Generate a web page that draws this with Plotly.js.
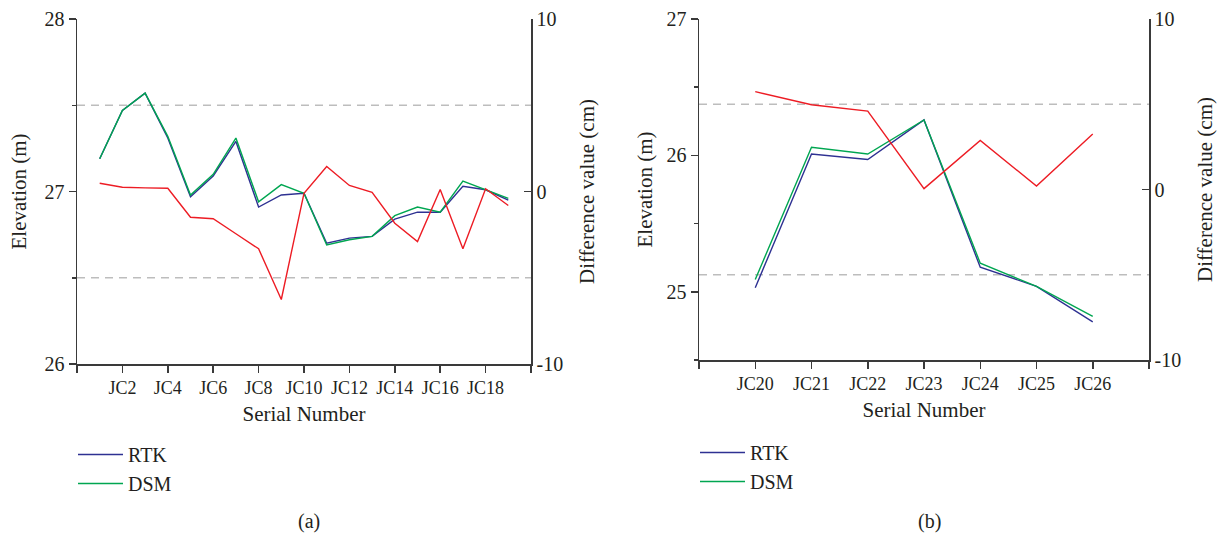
<!DOCTYPE html>
<html>
<head>
<meta charset="utf-8">
<script src="https://cdn.plot.ly/plotly-3.0.1.min.js"></script>
<style>
  html, body { margin: 0; padding: 0; background: #fff; }
  #chart { width: 1226px; height: 536px; }
</style>
</head>
<body>
<div id="chart"></div>
<script>
// ---- Panel (a) data ----
const catsA = ['JC1','JC2','JC3','JC4','JC5','JC6','JC7','JC8','JC9','JC10','JC11','JC12','JC13','JC14','JC15','JC16','JC17','JC18','JC19'];
const rtkA  = [27.19, 27.47, 27.57, 27.31, 26.97, 27.09, 27.29, 26.91, 26.98, 26.99, 26.70, 26.73, 26.74, 26.84, 26.88, 26.88, 27.03, 27.01, 26.95];
const dsmA  = [27.19, 27.47, 27.57, 27.32, 26.98, 27.10, 27.31, 26.94, 27.04, 26.99, 26.69, 26.72, 26.74, 26.86, 26.91, 26.88, 27.06, 27.01, 26.96];
const diffA = [0.48, 0.25, 0.21, 0.19, -1.49, -1.58, -2.45, -3.32, -6.26, -0.10, 1.45, 0.35, -0.05, -1.84, -2.90, 0.12, -3.32, 0.16, -0.81];
const tickLabelsA = ['', 'JC2', 'JC4', 'JC6', 'JC8', 'JC10', 'JC12', 'JC14', 'JC16', 'JC18', ''];

// ---- Panel (b) data ----
const catsB = ['JC20','JC21','JC22','JC23','JC24','JC25','JC26'];
const rtkB  = [25.03, 26.01, 25.97, 26.26, 25.18, 25.04, 24.78];
const dsmB  = [25.09, 26.06, 26.01, 26.26, 25.21, 25.04, 24.82];
const diffB = [5.74, 4.97, 4.60, 0.05, 2.88, 0.20, 3.26];
const tickLabelsB = ['', 'JC20', 'JC21', 'JC22', 'JC23', 'JC24', 'JC25', 'JC26', ''];

const diffTickVals = [-10, 0, 10];
const diffTickText = ['-10', '0', '10'];
const limitBand = [5, -5];

// positions along the axis: category index + 1
const xA = catsA.map((c, i) => i + 1);
const xB = catsB.map((c, i) => i + 1);
const tickValsA = tickLabelsA.map((t, i) => i * 2);
const tickValsB = tickLabelsB.map((t, i) => i);

const C_RTK = '#2e3192';
const C_DSM = '#00a651';
const C_DIF = '#ed1c24';
const AX = '#3a3a3a';
const FONT = 'Liberation Serif, Times New Roman, serif';

const W = 1226, H = 536;
const px = v => v / W;
const py = v => 1 - v / H;

const traces = [
  {x: xA, y: rtkA, name: 'RTK', type: 'scatter', mode: 'lines', xaxis: 'x', yaxis: 'y',
   line: {color: C_RTK, width: 1.4}, legend: 'legend', customdata: catsA},
  {x: xA, y: dsmA, name: 'DSM', type: 'scatter', mode: 'lines', xaxis: 'x', yaxis: 'y',
   line: {color: C_DSM, width: 1.4}, legend: 'legend', customdata: catsA},
  {x: xA, y: diffA, name: 'Difference', type: 'scatter', mode: 'lines', xaxis: 'x', yaxis: 'y2',
   line: {color: C_DIF, width: 1.4}, showlegend: false, customdata: catsA},
  {x: xB, y: rtkB, name: 'RTK', type: 'scatter', mode: 'lines', xaxis: 'x2', yaxis: 'y3',
   line: {color: C_RTK, width: 1.4}, legend: 'legend2', customdata: catsB},
  {x: xB, y: dsmB, name: 'DSM', type: 'scatter', mode: 'lines', xaxis: 'x2', yaxis: 'y3',
   line: {color: C_DSM, width: 1.4}, legend: 'legend2', customdata: catsB},
  {x: xB, y: diffB, name: 'Difference', type: 'scatter', mode: 'lines', xaxis: 'x2', yaxis: 'y4',
   line: {color: C_DIF, width: 1.4}, showlegend: false, customdata: catsB}
];

const axBase = {
  showline: true, linecolor: AX, linewidth: 1.5, showgrid: false, zeroline: false,
  ticks: 'outside', tickcolor: AX, tickwidth: 1.5, ticklen: 7,
  tickfont: {family: FONT, size: 20, color: '#231f20'}
};
const titleFont = {family: FONT, size: 21, color: '#231f20'};

const layout = {
  width: W, height: H,
  margin: {l: 0, r: 0, t: 0, b: 0},
  paper_bgcolor: '#fff', plot_bgcolor: '#fff',
  font: {family: FONT, color: '#231f20'},
  showlegend: true,
  xaxis: Object.assign({}, axBase, {
    domain: [px(77), px(531)], anchor: 'y', range: [0, 20],
    tickmode: 'array', tickvals: tickValsA, ticktext: tickLabelsA,
    tickfont: {family: FONT, size: 18, color: '#231f20'},
    title: {text: 'Serial Number', font: titleFont, standoff: 9}
  }),
  yaxis: Object.assign({}, axBase, {
    domain: [py(364), py(19)], anchor: 'x', range: [26, 28],
    tickmode: 'linear', tick0: 26, dtick: 1,
    minor: {dtick: 0.5, ticks: 'outside', ticklen: 4, tickcolor: AX, tickwidth: 1.5},
    title: {text: 'Elevation (m)', font: titleFont, standoff: 12}
  }),
  yaxis2: Object.assign({}, axBase, {
    overlaying: 'y', side: 'right', anchor: 'x', range: [-10, 10],
    tickmode: 'array', tickvals: diffTickVals, ticktext: diffTickText, ticks: 'inside',
    title: {text: 'Difference value (cm)', font: titleFont, standoff: 17}
  }),
  xaxis2: Object.assign({}, axBase, {
    domain: [px(699), px(1149)], anchor: 'y3', range: [0, 8],
    tickmode: 'array', tickvals: tickValsB, ticktext: tickLabelsB,
    tickfont: {family: FONT, size: 18, color: '#231f20'},
    title: {text: 'Serial Number', font: titleFont, standoff: 9}
  }),
  yaxis3: Object.assign({}, axBase, {
    domain: [py(360), py(19)], anchor: 'x2', range: [24.5, 27],
    tickmode: 'linear', tick0: 25, dtick: 1,
    minor: {dtick: 0.5, tick0: 24.5, ticks: 'outside', ticklen: 4, tickcolor: AX, tickwidth: 1.5},
    title: {text: 'Elevation (m)', font: titleFont, standoff: 8}
  }),
  yaxis4: Object.assign({}, axBase, {
    overlaying: 'y3', side: 'right', anchor: 'x2', range: [-10, 10],
    tickmode: 'array', tickvals: diffTickVals, ticktext: diffTickText, ticks: 'inside',
    title: {text: 'Difference value (cm)', font: titleFont, standoff: 17}
  }),
  legend: {
    x: px(73), xanchor: 'left', y: py(435), yanchor: 'top', itemwidth: 45,
    font: {family: FONT, size: 20, color: '#231f20'}, bgcolor: 'rgba(0,0,0,0)',
    traceorder: 'normal'
  },
  legend2: {
    x: px(695), xanchor: 'left', y: py(433), yanchor: 'top', itemwidth: 45,
    font: {family: FONT, size: 20, color: '#231f20'}, bgcolor: 'rgba(0,0,0,0)',
    traceorder: 'normal'
  },
  shapes: [
    ...limitBand.map(v => ({type: 'line', xref: 'x domain', yref: 'y2', x0: 0, x1: 1, y0: v, y1: v,
      line: {color: '#bdbdbd', width: 1.5, dash: '8px,6px'}, layer: 'below'})),
    ...limitBand.map(v => ({type: 'line', xref: 'x2 domain', yref: 'y4', x0: 0, x1: 1, y0: v, y1: v,
      line: {color: '#bdbdbd', width: 1.5, dash: '8px,6px'}, layer: 'below'}))
  ],
  annotations: [
    {text: '(a)', xref: 'paper', yref: 'paper', x: px(309), y: py(521), showarrow: false,
     xanchor: 'center', yanchor: 'middle', font: {family: FONT, size: 20, color: '#231f20'}},
    {text: '(b)', xref: 'paper', yref: 'paper', x: px(929), y: py(521), showarrow: false,
     xanchor: 'center', yanchor: 'middle', font: {family: FONT, size: 20, color: '#231f20'}}
  ]
};

Plotly.newPlot('chart', traces, layout, {displayModeBar: false, staticPlot: true});
</script>
</body>
</html>
